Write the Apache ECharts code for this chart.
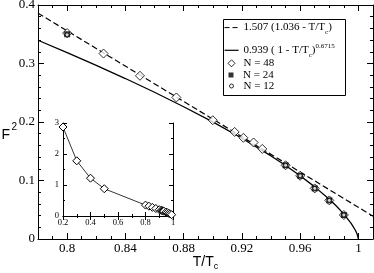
<!DOCTYPE html>
<html>
<head>
<meta charset="utf-8">
<script src="https://cdn.jsdelivr.net/npm/echarts@6/dist/echarts.min.js"></script>
<style>html,body{margin:0;padding:0;background:#fff}#c{width:374px;height:273px}</style>
</head>
<body>
<div id="c"></div>
<script>
// ---- data ----
const tc48 = [0.8, 0.825, 0.85, 0.875, 0.9, 0.915, 0.921, 0.928, 0.934, 0.95, 0.96, 0.97, 0.98, 0.99];
const f48  = [0.352, 0.317, 0.279, 0.242, 0.203, 0.183, 0.173, 0.165, 0.154, 0.126, 0.108, 0.0865, 0.066, 0.041];
const tc24 = [0.8, 0.95, 0.96, 0.97, 0.98, 0.99];
const f24  = [0.350, 0.126, 0.108, 0.0865, 0.066, 0.041];
const tc12 = [0.8, 0.95, 0.96, 0.97, 0.98, 0.99];
const f12  = [0.349, 0.126, 0.108, 0.0865, 0.066, 0.041];
const dashX = [0.78, 1.01];
const dashY = [0.386, 0.039];
const solidX = [0.78, 0.80, 0.82, 0.84, 0.86, 0.88, 0.90, 0.92, 0.94, 0.95, 0.96, 0.97, 0.98, 0.985, 0.99, 0.995, 0.998, 0.999, 0.9995, 1.0];
const solidY = [0.3397, 0.3187, 0.2969, 0.2743, 0.2508, 0.2261, 0.2001, 0.1722, 0.1420, 0.1256, 0.1081, 0.0891, 0.0679, 0.0560, 0.0426, 0.0268, 0.0145, 0.0091, 0.0057, 0];
const insetTc = [0.2, 0.3, 0.4, 0.5].concat(tc48);
const insetF  = [2.87, 1.78, 1.22, 0.88].concat(f48);
const xMajor = [0.8, 0.84, 0.88, 0.92, 0.96, 1.0];
const xMajorTicks = [0.8, 0.84, 0.88, 0.92, 0.96, 1.0];

const zip = (a, b) => a.map((v, i) => [v, b[i]]);
const serif = 'Liberation Serif';
const sans = 'Liberation Sans';
const fmt = v => String(+(+v).toFixed(3));

const chart = echarts.init(document.getElementById('c'), null, {renderer: 'canvas'});

const mainX = {min: 0.78, max: 1.01, gridIndex: 0, type: 'value', splitLine: {show: false}};
const lineBlack = {lineStyle: {color: '#000', width: 1}};
const legText = {color: '#000', fontFamily: serif, fontSize: 11, lineHeight: 12};

const option = {
  animation: false,
  backgroundColor: '#fff',
  color: ['#000'],
  grid: [
    {left: 38, top: 5, right: 1, bottom: 34, outerBoundsMode: 'none', containLabel: false},
    {left: 63, top: 123, width: 110, height: 93, outerBoundsMode: 'none', containLabel: false,
     show: true, backgroundColor: '#fff', borderWidth: 0}
  ],
  xAxis: [
    Object.assign({}, mainX, {position: 'bottom', interval: 0.01,
      axisLine: lineBlack, axisTick: {inside: true, length: 3, lineStyle: {color: '#000'}},
      axisLabel: {show: false}}),
    Object.assign({}, mainX, {position: 'bottom', interval: 0.01,
      axisLine: {show: false},
      axisTick: {inside: true, length: 6, customValues: xMajorTicks, lineStyle: {color: '#000'}},
      axisLabel: {show: true, customValues: xMajor, formatter: fmt, margin: 3,
        color: '#000', fontFamily: serif, fontSize: 13},
      name: 'T/T{sub|c}', nameLocation: 'middle', nameGap: 14, nameMoveOverlap: false,
      nameTextStyle: {color: '#000', fontFamily: sans, fontSize: 14, lineHeight: 18,
        rich: {sub: {fontFamily: sans, fontSize: 9, verticalAlign: 'bottom', lineHeight: 9, color: '#000'}}}}),
    Object.assign({}, mainX, {position: 'top', interval: 0.01,
      axisLine: lineBlack, axisTick: {inside: true, length: 3, lineStyle: {color: '#000'}},
      axisLabel: {show: false}}),
    Object.assign({}, mainX, {position: 'top', interval: 0.01,
      axisLine: {show: false},
      axisTick: {inside: true, length: 6, customValues: xMajorTicks, lineStyle: {color: '#000'}},
      axisLabel: {show: false}}),
    {type: 'value', gridIndex: 1, min: 0.2, max: 1, interval: 0.2, position: 'bottom',
      splitLine: {show: false}, axisLine: lineBlack,
      axisTick: {inside: true, length: 4, lineStyle: {color: '#000'}},
      minorTick: {show: true, splitNumber: 2, length: 2, lineStyle: {color: '#000'}},
      axisLabel: {formatter: fmt, margin: 2, color: '#000', fontFamily: serif, fontSize: 8.5}},
    {type: 'value', gridIndex: 1, min: 0.2, max: 1, interval: 0.2, position: 'top',
      splitLine: {show: false}, axisLine: lineBlack,
      axisTick: {inside: true, length: 4, lineStyle: {color: '#000'}},
      minorTick: {show: true, splitNumber: 2, length: 2, lineStyle: {color: '#000'}},
      axisLabel: {show: false}}
  ],
  yAxis: [
    {type: 'value', gridIndex: 0, min: 0, max: 0.4, interval: 0.1, position: 'left',
      splitLine: {show: false}, axisLine: lineBlack,
      axisTick: {inside: true, length: 6, lineStyle: {color: '#000'}},
      minorTick: {show: true, splitNumber: 5, length: 3, lineStyle: {color: '#000'}},
      axisLabel: {formatter: fmt, margin: 3, color: '#000', fontFamily: serif, fontSize: 13}},
    {type: 'value', gridIndex: 0, min: 0, max: 0.4, interval: 0.1, position: 'right',
      splitLine: {show: false}, axisLine: lineBlack,
      axisTick: {inside: true, length: 6, lineStyle: {color: '#000'}},
      minorTick: {show: true, splitNumber: 5, length: 3, lineStyle: {color: '#000'}},
      axisLabel: {show: false}},
    {type: 'value', gridIndex: 1, min: 0, max: 3, interval: 1, position: 'left',
      splitLine: {show: false}, axisLine: lineBlack,
      axisTick: {inside: true, length: 4, lineStyle: {color: '#000'}},
      minorTick: {show: true, splitNumber: 2, length: 2, lineStyle: {color: '#000'}},
      axisLabel: {formatter: fmt, margin: 4, color: '#000', fontFamily: serif, fontSize: 8.5}},
    {type: 'value', gridIndex: 1, min: 0, max: 3, interval: 1, position: 'right',
      splitLine: {show: false}, axisLine: lineBlack,
      axisTick: {inside: true, length: 4, lineStyle: {color: '#000'}},
      minorTick: {show: true, splitNumber: 2, length: 2, lineStyle: {color: '#000'}},
      axisLabel: {show: false}}
  ],
  legend: [
    {data: ['fitA'], left: 224, top: 19.6, padding: 0, itemWidth: 14, itemHeight: 8,
      selectedMode: false, formatter: () => '1.507 (1.036 - T/T{sub|c})',
      itemStyle: {opacity: 0},
      lineStyle: {color: '#000', width: 1, type: [5, 3]},
      textStyle: {color: '#000', fontFamily: serif, fontSize: 11, lineHeight: 16,
        rich: {sub: {fontFamily: serif, fontSize: 7, verticalAlign: 'bottom', lineHeight: 8, color: '#000'}}}},
    {data: ['fitB'], left: 224, top: 42.3, padding: 0, itemWidth: 14, itemHeight: 8,
      selectedMode: false, formatter: () => '0.939 ( 1 - T/T{sub|c}){sup|0.6715}',
      itemStyle: {opacity: 0},
      lineStyle: {color: '#000', width: 1.2, type: 'solid'},
      textStyle: {color: '#000', fontFamily: serif, fontSize: 11, lineHeight: 16,
        rich: {sub: {fontFamily: serif, fontSize: 7, verticalAlign: 'bottom', lineHeight: 8, color: '#000'},
               sup: {fontFamily: serif, fontSize: 7, verticalAlign: 'top', lineHeight: 8, color: '#000'}}}},
    {data: ['N48'], left: 227.5, top: 57.3, padding: 0, itemWidth: 7, itemHeight: 7,
      selectedMode: false, formatter: () => 'N = 48',
      itemStyle: {color: '#fff', borderColor: '#000', borderWidth: 1},
      textStyle: Object.assign({padding: [0, 0, 0, 3.5]}, legText)},
    {data: ['N24'], left: 228.5, top: 69, padding: 0, itemWidth: 5, itemHeight: 5,
      selectedMode: false, formatter: () => 'N = 24',
      itemStyle: {color: '#000', borderWidth: 0},
      textStyle: Object.assign({padding: [0, 0, 0, 4.5]}, legText)},
    {data: ['N12'], left: 229, top: 80, padding: 0, itemWidth: 4, itemHeight: 4,
      selectedMode: false, formatter: () => 'N = 12',
      itemStyle: {color: '#fff', borderColor: '#000', borderWidth: 1},
      textStyle: Object.assign({padding: [0, 0, 0, 5]}, legText)}
  ],
  graphic: [
    {type: 'rect', shape: {x: 223.5, y: 19.5, width: 122, height: 76}, z: 0,
      style: {fill: '#fff', stroke: '#000', lineWidth: 1}},
    {type: 'text', x: 1.5, y: 128.5, z: 10,
      style: {text: 'F', fill: '#000', font: '14px "Liberation Sans"', textBaseline: 'alphabetic', textAlign: 'left'}},
    {type: 'text', x: 11.5, y: 122.7, z: 10,
      style: {text: '2', fill: '#000', font: '10px "Liberation Sans"', textBaseline: 'alphabetic', textAlign: 'left'}}
  ],
  series: [
    {name: 'fitA', type: 'line', xAxisIndex: 0, yAxisIndex: 0, data: zip(dashX, dashY),
      symbol: 'none', color: '#000', lineStyle: {color: '#000', width: 1.2, type: [6, 3]}, z: 2},
    {name: 'fitB', type: 'line', xAxisIndex: 0, yAxisIndex: 0, data: zip(solidX, solidY),
      symbol: 'none', color: '#000', lineStyle: {color: '#000', width: 1.3}, z: 2},
    {name: 'N48', type: 'scatter', xAxisIndex: 0, yAxisIndex: 0, data: zip(tc48, f48),
      symbol: 'diamond', symbolSize: 9, itemStyle: {color: '#fff', borderColor: '#000', borderWidth: 1}, z: 3},
    {name: 'N24', type: 'scatter', xAxisIndex: 0, yAxisIndex: 0, data: zip(tc24, f24),
      symbol: 'rect', symbolSize: 6, itemStyle: {color: '#000'}, z: 4},
    {name: 'N12', type: 'scatter', xAxisIndex: 0, yAxisIndex: 0, data: zip(tc12, f12),
      symbol: 'circle', symbolSize: 4, itemStyle: {color: '#fff', borderColor: '#000', borderWidth: 1}, z: 5},
    {name: 'inset', type: 'line', xAxisIndex: 4, yAxisIndex: 2, data: zip(insetTc, insetF),
      symbol: 'diamond', symbolSize: 8, showAllSymbol: true,
      lineStyle: {color: '#000', width: 0.8},
      itemStyle: {color: '#fff', borderColor: '#000', borderWidth: 1}, z: 6}
  ]
};
chart.setOption(option);
</script>
</body>
</html>
